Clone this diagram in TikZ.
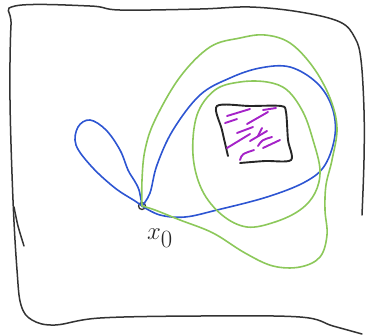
\documentclass[tikz,border=0pt]{standalone}
\begin{document}
\begin{tikzpicture}[x=1bp,y=-1bp,line cap=round,line join=round,
  frame/.style={draw=black!80,line width=1.5bp},
  bluepath/.style={draw={rgb,255:red,45;green,85;blue,210},line width=1.6bp},
  greenpath/.style={draw={rgb,255:red,140;green,200;blue,90},line width=1.6bp},
  hatch/.style={draw={rgb,255:red,165;green,35;blue,200},line width=1.9bp},
  boxline/.style={draw=black!85,line width=1.9bp}]
\useasboundingbox (0,0) rectangle (369,336);
% frame
\draw[frame] plot[smooth,tension=0.6] coordinates {(362,215) (364,160) (364,110) (361,60) (355,38) (340,22) (300,12) (250,7) (200,9) (120,10) (90,6) (15,6) (11,25) (10,100) (13,200) (17,270) (21,305) (32,320) (55,325) (100,318) (200,316) (300,317) (333,326) (362,334)};
\draw[frame] plot[smooth] coordinates {(14,207) (18,226) (24,246)};
% black square
\draw[boxline] plot[smooth,tension=0.5] coordinates {(228,156) (222,130) (217,106) (250,106) (281,106) (286,112) (288,140) (291,160) (265,161) (240,163)};
% purple strokes
\draw[hatch] (227,116) -- (250,109);
\draw[hatch] (225,123) -- (237,119);
\draw[hatch] (247,124) -- (268,112) (263,110) -- (276,108);
\draw[hatch] (237,133) -- (253,127);
\draw[hatch] (227,148) -- (250,134);
\draw[hatch] (250,141) -- (267,131);
\draw[hatch] (258,146) .. controls (262,140) .. (272,137);
\draw[hatch] (240,160) .. controls (242,154) .. (254,150);
\draw[hatch] (263,148) -- (280,140);
\draw[hatch] (258,136) -- (262,128);
% point x0
\node[circle,draw=black!80,line width=1.3bp,inner sep=0pt,minimum size=7bp] (x0) at (142,206) {};
\node[text=black!85,font=\fontsize{34}{36}\selectfont,inner sep=0pt] (lab) at (160,238) {$x_{\textstyle 0}$};
% blue loops
\draw[bluepath] plot[smooth,tension=0.6] coordinates {(x0.center) (139,190) (134,180) (128,170) (120,150) (106,130) (90,120) (78,127) (76,145) (92,167) (115,188) (135,201) (x0.center)};
\draw[bluepath] plot[smooth,tension=0.6] coordinates {(x0.center) (150,193) (157,165) (173,130) (200,95) (230,78) (260,68) (290,67) (317,83) (332,107) (335,135) (325,165) (305,182) (267,197) (217,210) (185,217) (160,215) (x0.center)};
% green loops
\draw[greenpath] plot[smooth,tension=0.6] coordinates {(x0.center) (142,180) (145,150) (155,120) (180,77) (210,47) (240,38) (265,35) (290,43) (313,67) (330,98) (337,128) (332,160) (326,185) (325,210) (327,235) (320,257) (300,267) (273,266) (245,253) (213,233) (180,220) (155,210) (x0.center)};
\draw[greenpath] plot[smooth cycle,tension=0.6] coordinates {(267,82) (287,90) (303,112) (313,140) (320,170) (315,193) (300,210) (275,222) (247,227) (222,215) (202,190) (193,155) (197,115) (215,90) (240,82)};
\end{tikzpicture}
\end{document}
